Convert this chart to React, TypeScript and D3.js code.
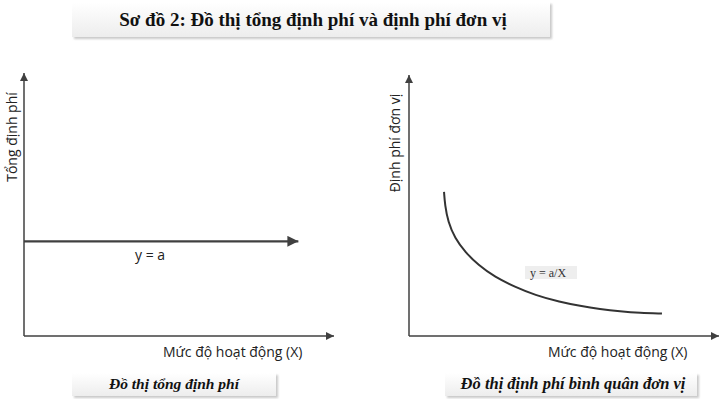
import React from 'react';
import * as d3 from 'd3';

// Left chart: total fixed cost is flat
const fixedLevel = [{ x: 0, y: 3.6 }, { x: 8.85, y: 3.6 }];

// Right chart: unit fixed cost
const unitX = [1.13, 1.16, 1.26, 1.48, 1.81, 2.23, 2.77, 3.42, 4.06, 4.87, 5.52, 6.16, 6.81, 7.45, 8.16];
const unitY = [5.52, 5.02, 4.37, 3.75, 3.22, 2.72, 2.26, 1.88, 1.57, 1.3, 1.15, 1.03, 0.94, 0.88, 0.86];

const titleText = 'Sơ đồ 2: Đồ thị tổng định phí và định phí đơn vị';
const captions = ['Đồ thị tổng định phí', 'Đồ thị định phí bình quân đơn vị'];
const yLabels = ['Tổng định phí', 'Định phí đơn vị'];
const xLabel = 'Mức độ hoạt động (X)';
const lineLabels = ['y = a', 'y = a/X'];

const W = 720;
const H = 399;
const sans = '"Open Sans", "Noto Sans", sans-serif';
const serif = '"Liberation Serif", "DejaVu Serif", serif';

const Box = ({ x, y, w, h }: { x: number; y: number; w: number; h: number }) => (
  <rect x={x} y={y} width={w} height={h} fill="url(#boxGrad)" filter="url(#boxShadow)" />
);

export default function App() {
  // left panel scales
  const xL = d3.scaleLinear().domain([0, 10]).range([24, 334]);
  const yL = d3.scaleLinear().domain([0, 10]).range([336, 73]);
  // right panel scales
  const xR = d3.scaleLinear().domain([0, 10]).range([409, 719]);
  const yR = d3.scaleLinear().domain([0, 10]).range([336, 75]);

  const flatLine = d3.line<{ x: number; y: number }>()
    .x(d => xL(d.x))
    .y(d => yL(d.y));

  const curvePts = unitX.map((x, i) => [x, unitY[i]] as [number, number]);
  const curve = d3.line<[number, number]>()
    .x(d => xR(d[0]))
    .y(d => yR(d[1]))
    .curve(d3.curveBasis);

  const axisColor = '#404040';

  return (
    <svg width={W} height={H} style={{ position: 'absolute', left: 0, top: 0 }}>
      <defs>
        <linearGradient id="boxGrad" x1="0" y1="0" x2="0" y2="1">
          <stop offset="0%" stopColor="#ffffff" />
          <stop offset="100%" stopColor="#ededed" />
        </linearGradient>
        <filter id="boxShadow" x="-5%" y="-20%" width="110%" height="150%">
          <feDropShadow dx="2" dy="2" stdDeviation="1.2" floodColor="#888" floodOpacity="0.45" />
        </filter>
        <marker id="arrow" viewBox="0 0 10 10" refX="10" refY="5" markerWidth="10" markerHeight="8"
          markerUnits="userSpaceOnUse" orient="auto">
          <path d="M0,0 L10,5 L0,10 z" fill={axisColor} />
        </marker>
        <marker id="arrowBig" viewBox="0 0 10 10" refX="10" refY="5" markerWidth="13" markerHeight="11"
          markerUnits="userSpaceOnUse" orient="auto">
          <path d="M0,0 L10,5 L0,10 z" fill={axisColor} />
        </marker>
      </defs>
      <rect width={W} height={H} fill="#fff" />

      {/* title */}
      <Box x={72} y={2} w={478} h={35} />
      <text x={313} y={26} textAnchor="middle" fontFamily={serif} fontWeight="bold" fontSize={19} fill="#111">
        {titleText}
      </text>

      {/* left panel */}
      <line x1={xL(0)} y1={yL(0)} x2={xL(0)} y2={yL(10)} stroke={axisColor} strokeWidth={1.5} markerEnd="url(#arrow)" />
      <line x1={xL(0)} y1={yL(0)} x2={xL(10)} y2={yL(0)} stroke={axisColor} strokeWidth={1.5} markerEnd="url(#arrow)" />
      <path d={flatLine(fixedLevel) || ''} fill="none" stroke={axisColor} strokeWidth={2.2} markerEnd="url(#arrowBig)" />
      <text x={135} y={260} fontFamily={sans} fontSize={14} fill="#222">{lineLabels[0]}</text>
      <text transform={`translate(17,137) rotate(-90)`} textAnchor="middle" fontFamily={sans} fontSize={14} fill="#222">
        {yLabels[0]}
      </text>
      <text x={163} y={357} fontFamily={sans} fontSize={14} fill="#222">{xLabel}</text>

      {/* right panel */}
      <line x1={xR(0)} y1={yR(0)} x2={xR(0)} y2={yR(10)} stroke={axisColor} strokeWidth={1.5} markerEnd="url(#arrow)" />
      <line x1={xR(0)} y1={yR(0)} x2={xR(10)} y2={yR(0)} stroke={axisColor} strokeWidth={1.5} markerEnd="url(#arrow)" />
      <path d={curve(curvePts) || ''} fill="none" stroke="#333" strokeWidth={2} />
      <rect x={525} y={266} width={52} height={13} fill="#eeeeee" />
      <text x={530} y={276.5} fontFamily={serif} fontSize={12} fill="#333">{lineLabels[1]}</text>
      <text transform={`translate(400,143) rotate(-90)`} textAnchor="middle" fontFamily={sans} fontSize={14} fill="#222">
        {yLabels[1]}
      </text>
      <text x={548} y={357} fontFamily={sans} fontSize={14} fill="#222">{xLabel}</text>

      {/* captions */}
      <Box x={72} y={373} w={204} h={23} />
      <text x={174} y={389} textAnchor="middle" fontFamily={serif} fontWeight="bold" fontStyle="italic" fontSize={15.5} fill="#111">
        {captions[0]}
      </text>
      <Box x={445} y={373} w={252} h={23} />
      <text x={573} y={389} textAnchor="middle" fontFamily={serif} fontWeight="bold" fontStyle="italic" fontSize={16.5} fill="#111">
        {captions[1]}
      </text>
    </svg>
  );
}
